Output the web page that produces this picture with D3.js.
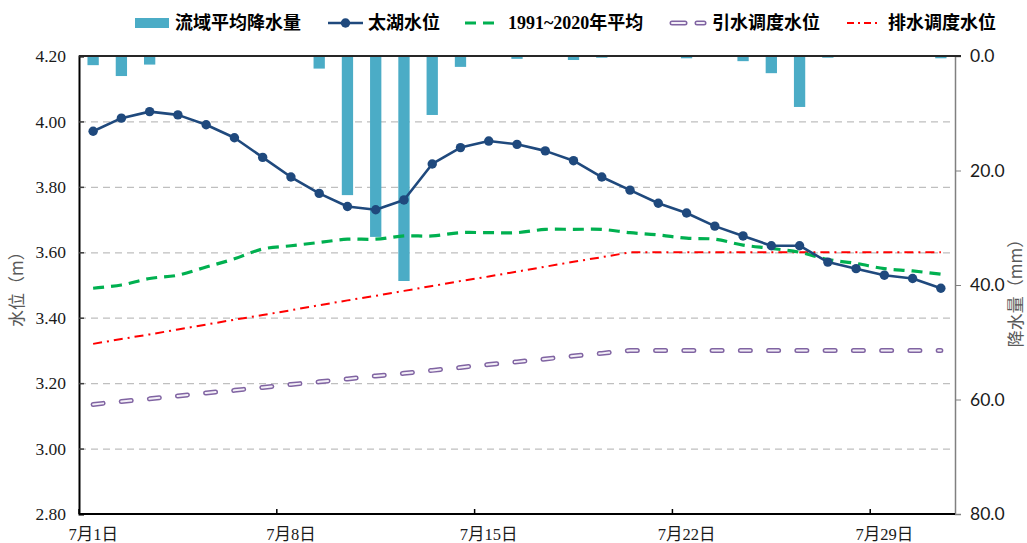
<!DOCTYPE html>
<html>
<head>
<meta charset="utf-8">
<script src="https://cdn.jsdelivr.net/npm/d3@7"></script>
<style>
  html, body { margin: 0; padding: 0; background: #ffffff; }
  svg { display: block; }
</style>
</head>
<body>
<svg id="chart" width="1027" height="543"></svg>
<script>
// July, day of month
const days = [1, 2, 3, 4, 5, 6, 7, 8, 9, 10, 11, 12, 13, 14, 15, 16,
  17, 18, 19, 20, 21, 22, 23, 24, 25, 26, 27, 28, 29, 30, 31];
const labelDays = [1, 8, 15, 22, 29];

// 流域平均降水量 (mm)
const rainfall = [1.6, 3.5, 1.5, 0, 0, 0, 0, 0, 2.2, 24.3, 31.6, 39.3, 10.3,
  1.9, 0, 0.5, 0, 0.7, 0.3, 0, 0, 0.4, 0, 0.9, 3.0, 8.9, 0.3, 0, 0, 0, 0.4];
// 太湖水位 (m)
const taihuLevel = [3.97, 4.01, 4.03, 4.02, 3.99, 3.95, 3.89, 3.83, 3.78, 3.74,
  3.73, 3.76, 3.87, 3.92, 3.94, 3.93, 3.91, 3.88, 3.83, 3.79, 3.75, 3.72, 3.68,
  3.65, 3.62, 3.62, 3.57, 3.55, 3.53, 3.52, 3.49];
// 1991~2020年平均
const avgLevel = [3.49, 3.50, 3.52, 3.53, 3.555, 3.58, 3.61, 3.62, 3.63, 3.64,
  3.64, 3.65, 3.65, 3.66, 3.66, 3.66, 3.67, 3.67, 3.67, 3.66, 3.653, 3.643,
  3.64, 3.622, 3.612, 3.60, 3.578, 3.566, 3.55, 3.543, 3.533];
// 引水调度水位
const intakeLevel = [3.135, 3.144, 3.152, 3.161, 3.170, 3.178, 3.187, 3.196,
  3.204, 3.213, 3.222, 3.230, 3.239, 3.248, 3.257, 3.265, 3.274, 3.283, 3.291,
  3.30, 3.30, 3.30, 3.30, 3.30, 3.30, 3.30, 3.30, 3.30, 3.30, 3.30, 3.30];
// 排水调度水位
const drainLevel = [3.320, 3.335, 3.349, 3.364, 3.379, 3.394, 3.408, 3.423,
  3.438, 3.453, 3.467, 3.482, 3.497, 3.512, 3.526, 3.541, 3.556, 3.571, 3.585,
  3.60, 3.60, 3.60, 3.60, 3.60, 3.60, 3.60, 3.60, 3.60, 3.60, 3.60, 3.60];

const levelTicks = [2.8, 3.0, 3.2, 3.4, 3.6, 3.8, 4.0, 4.2];
const rainTicks = [0, 20, 40, 60, 80];

const plot = {left: 79, right: 955, top: 56, bottom: 514};

const colors = {
  bar: '#4BACC6', taihu: '#1F497D', avg: '#00B050',
  intake: '#8064A2', intakeInner: '#F3EFF7', drain: '#FF0000',
  grid: '#BFBFBF', text: '#1a1a1a', title: '#595959'
};
const serif = '"Liberation Serif", "Noto Sans CJK SC", serif';

const svg = d3.select('#chart');

const x = d3.scaleBand()
  .domain(days)
  .range([plot.left, plot.right])
  .padding(0);
const yLevel = d3.scaleLinear()
  .domain([2.8, 4.2])
  .range([plot.bottom, plot.top]);
const yRain = d3.scaleLinear()
  .domain([0, 80])
  .range([plot.top, plot.bottom]);

const cx = d => x(d) + x.bandwidth() / 2;


function drawGrid(selection) {
  const grid = selection.append('g')
      .attr('class', 'grid')
      .attr('transform', `translate(${plot.left},0)`)
      .call(d3.axisLeft(yLevel)
        .tickValues(levelTicks.filter(v => v > 2.8 && v < 4.2))
        .tickSize(-(plot.right - plot.left))
        .tickFormat(''));
  grid.select('.domain').remove();
  grid.selectAll('line')
      .attr('stroke', colors.grid)
      .attr('stroke-width', 1.2)
      .attr('stroke-dasharray', '7,5');
}


function drawBars(selection) {
  const bw = x.bandwidth() * 0.4;
  selection.append('g')
      .attr('class', 'bars')
    .selectAll('rect')
    .data(days.map((d, i) => ({day: d, v: rainfall[i]})).filter(d => d.v > 0))
    .enter()
    .append('rect')
      .attr('x', d => cx(d.day) - bw / 2)
      .attr('y', yRain(0))
      .attr('width', bw)
      .attr('height', d => Math.max(yRain(d.v) - yRain(0), 1.5))
      .attr('fill', colors.bar);
}


function drawLines(selection) {
  const straight = d3.line().x((d, i) => cx(days[i])).y(d => yLevel(d));
  const smooth = d3.line().x((d, i) => cx(days[i])).y(d => yLevel(d))
    .curve(d3.curveCardinal.tension(0));

  // 引水调度水位: hollow dashes
  selection.append('path')
      .attr('d', straight(intakeLevel))
      .attr('fill', 'none')
      .attr('stroke', colors.intake)
      .attr('stroke-width', 5)
      .attr('stroke-linecap', 'round')
      .attr('stroke-dasharray', `10,${x.bandwidth() - 10}`);
  selection.append('path')
      .attr('d', straight(intakeLevel))
      .attr('fill', 'none')
      .attr('stroke', colors.intakeInner)
      .attr('stroke-width', 2)
      .attr('stroke-linecap', 'round')
      .attr('stroke-dasharray', `10,${x.bandwidth() - 10}`);

  selection.append('path')
      .attr('d', straight(drainLevel))
      .attr('fill', 'none')
      .attr('stroke', colors.drain)
      .attr('stroke-width', 2)
      .attr('stroke-dasharray', '9,5,2,5');

  selection.append('path')
      .attr('d', smooth(avgLevel))
      .attr('fill', 'none')
      .attr('stroke', colors.avg)
      .attr('stroke-width', 3.2)
      .attr('stroke-dasharray', '11,7');

  selection.append('path')
      .attr('d', straight(taihuLevel))
      .attr('fill', 'none')
      .attr('stroke', colors.taihu)
      .attr('stroke-width', 2.6)
      .attr('stroke-linejoin', 'round');
  selection.append('g')
    .selectAll('circle')
    .data(taihuLevel)
    .enter()
    .append('circle')
      .attr('cx', (d, i) => cx(days[i]))
      .attr('cy', d => yLevel(d))
      .attr('r', 4.7)
      .attr('fill', colors.taihu);
}


function drawAxes(selection) {
  // left axis
  const left = selection.append('g')
      .attr('transform', `translate(${plot.left},0)`)
      .attr('font-family', serif)
      .call(d3.axisLeft(yLevel)
        .tickValues(levelTicks)
        .tickSize(-5)
        .tickPadding(13)
        .tickFormat(d3.format('.2f')));
  left.attr('font-family', serif);
  left.select('.domain').attr('stroke', '#000').attr('stroke-width', 2);
  left.selectAll('.tick line').attr('stroke', '#404040').attr('stroke-width', 1.5);
  left.selectAll('text')
      .style('font-family', serif)
      .attr('font-size', 17.5)
      .attr('fill', colors.text);

  // right axis
  const right = selection.append('g')
      .attr('transform', `translate(${plot.right},0)`)
      .call(d3.axisRight(yRain)
        .tickValues(rainTicks)
        .tickSize(6)
        .tickPadding(9)
        .tickFormat(d3.format('.1f')));
  right.select('.domain').attr('stroke', '#808080').attr('stroke-width', 1.5);
  right.selectAll('.tick line').attr('stroke', '#808080');
  right.selectAll('text')
      .style('font-family', 'Lato, "Open Sans", sans-serif')
      .attr('font-size', 17.5)
      .attr('fill', colors.text);

  // bottom axis: labels at band centres, ticks on band boundaries
  const bottom = selection.append('g')
      .attr('transform', `translate(0,${plot.bottom})`)
      .call(d3.axisBottom(x)
        .tickValues(labelDays)
        .tickSize(-5)
        .tickPadding(14)
        .tickFormat(d => `7月${d}日`));
  bottom.select('.domain')
      .attr('d', `M${plot.left},0H${plot.right}`)
      .attr('stroke', '#000').attr('stroke-width', 2);
  bottom.selectAll('.tick line')
      .attr('x1', -x.bandwidth() / 2)
      .attr('x2', -x.bandwidth() / 2)
      .attr('stroke', '#000').attr('stroke-width', 1.5);
  bottom.selectAll('text')
      .style('font-family', serif)
      .attr('font-size', 16.5)
      .attr('fill', colors.text);

  // top frame
  selection.append('line')
      .attr('x1', plot.left).attr('x2', plot.right + 6)
      .attr('y1', plot.top).attr('y2', plot.top)
      .attr('stroke', '#262626').attr('stroke-width', 2);

  // axis titles
  selection.append('text')
      .attr('transform', `translate(23,${(plot.top + plot.bottom) / 2}) rotate(-90)`)
      .attr('text-anchor', 'middle')
      .attr('font-family', '"Noto Sans CJK SC", sans-serif')
      .attr('font-size', 17)
      .attr('fill', colors.title)
      .text('水位（m）');
  selection.append('text')
      .attr('transform', `translate(1022,${(plot.top + plot.bottom) / 2 + 4}) rotate(-90)`)
      .attr('text-anchor', 'middle')
      .attr('font-family', '"Noto Sans CJK SC", sans-serif')
      .attr('font-size', 17)
      .attr('fill', colors.title)
      .text('降水量（mm）');
}


function drawLegend(selection) {
  const legend = selection.append('g')
      .attr('class', 'legend')
      .attr('font-family', serif)
      .attr('font-size', 18)
      .attr('font-weight', 'bold')
      .attr('fill', '#000');
  const ly = 23;
  const items = [
    {key: 'bar', x: 135, w: 34, tx: 175, label: '流域平均降水量'},
    {key: 'taihu', x: 328, w: 35, tx: 368, label: '太湖水位'},
    {key: 'avg', x: 465, w: 31, tx: 508, label: '1991~2020年平均'},
    {key: 'intake', x: 672, w: 35, tx: 712, label: '引水调度水位'},
    {key: 'drain', x: 847, w: 34, tx: 888, label: '排水调度水位'}
  ];
  items.forEach(it => {
    const g = legend.append('g');
    if (it.key === 'bar') {
      g.append('rect')
          .attr('x', it.x).attr('y', ly - 5)
          .attr('width', it.w).attr('height', 10)
          .attr('fill', colors.bar);
    } else if (it.key === 'taihu') {
      g.append('line')
          .attr('x1', it.x).attr('x2', it.x + it.w)
          .attr('y1', ly).attr('y2', ly)
          .attr('stroke', colors.taihu).attr('stroke-width', 2.6);
      g.append('circle')
          .attr('cx', it.x + it.w / 2).attr('cy', ly).attr('r', 4.7)
          .attr('fill', colors.taihu);
    } else if (it.key === 'avg') {
      g.append('line')
          .attr('x1', it.x).attr('x2', it.x + it.w)
          .attr('y1', ly).attr('y2', ly)
          .attr('stroke', colors.avg).attr('stroke-width', 3.2)
          .attr('stroke-dasharray', '11,7');
    } else if (it.key === 'intake') {
      [[it.x, 13], [it.x + 25, 7]].forEach(([sx, len]) => {
        g.append('line')
            .attr('x1', sx).attr('x2', sx + len)
            .attr('y1', ly).attr('y2', ly)
            .attr('stroke', colors.intake).attr('stroke-width', 5)
            .attr('stroke-linecap', 'round');
        g.append('line')
            .attr('x1', sx).attr('x2', sx + len)
            .attr('y1', ly).attr('y2', ly)
            .attr('stroke', colors.intakeInner).attr('stroke-width', 2)
            .attr('stroke-linecap', 'round');
      });
    } else {
      g.append('line')
          .attr('x1', it.x).attr('x2', it.x + it.w)
          .attr('y1', ly).attr('y2', ly)
          .attr('stroke', colors.drain).attr('stroke-width', 2)
          .attr('stroke-dasharray', '7,4,2,4');
    }
    g.append('text')
        .attr('x', it.tx).attr('y', ly + 6)
        .text(it.label);
  });
}


svg.call(drawGrid);
svg.call(drawBars);
svg.call(drawLines);
svg.call(drawAxes);
svg.call(drawLegend);
</script>
</body>
</html>
